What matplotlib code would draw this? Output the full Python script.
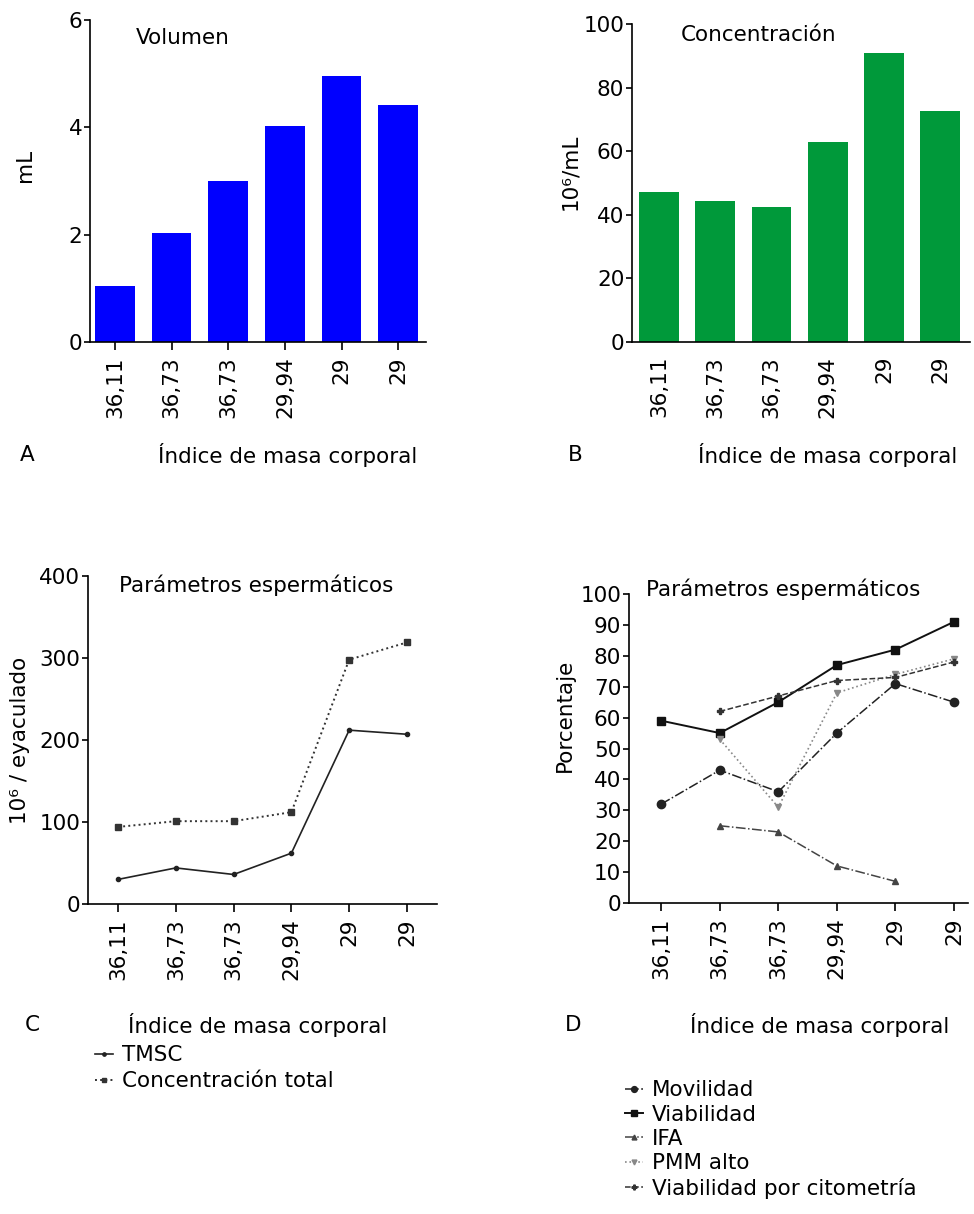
import numpy as np
import matplotlib
matplotlib.use("Agg")
import matplotlib.pyplot as plt

plt.rcParams['font.family'] = ['DejaVu Sans']

# datos
imc = ["36,11", "36,73", "36,73", "29,94", "29", "29"]
volumen = [1.05, 2.03, 3.0, 4.02, 4.95, 4.42]
concentracion = [47.2, 44.3, 42.3, 63.0, 91.0, 72.5]

tmsc = [30, 44, 36, 62, 212, 207]
conc_total = [94, 101, 101, 112, 298, 319]

movilidad = [32, 43, 36, 55, 71, 65]
viabilidad = [59, 55, 65, 77, 82, 91]
ifa = [np.nan, 25, 23, 12, 7, np.nan]
pmm_alto = [np.nan, 53, 31, 68, 74, 79]
viab_citometria = [np.nan, 62, 67, 72, 73, 78]

W, H = 974, 1214
FS = 15.5

fig = plt.figure(figsize=(W / 100, H / 100), dpi=100)


def axes_px(x0, x1, ytop, ybot):
    # coordenadas en pixeles -> fraccion de la figura
    return fig.add_axes([x0 / W, 1 - ybot / H, (x1 - x0) / W, (ybot - ytop) / H])


def estilo(ax, xticks=True):
    for s in ['top', 'right']:
        ax.spines[s].set_visible(False)
    ax.spines['left'].set_linewidth(1.2)
    ax.spines['bottom'].set_linewidth(1.2)
    x = np.arange(len(imc))
    ax.set_xticks(x)
    ax.set_xticklabels(imc, rotation=90, fontsize=FS)
    ax.tick_params(axis='y', labelsize=FS, length=4.5, width=1.2, pad=1)
    ax.tick_params(axis='x', length=5.5 if xticks else 0, width=1.2, pad=5 if xticks else 10)


x = np.arange(len(imc))

# A - Volumen
axA = axes_px(90, 426, 20, 342)
axA.bar(x, volumen, width=0.7, color='#0000ff')
axA.set_xlim(-0.44, 5.49)
axA.set_ylim(0, 6)
axA.set_yticks([0, 2, 4, 6])
estilo(axA)
axA.text(0.135, 0.925, "Volumen", transform=axA.transAxes, fontsize=FS)

# B - Concentracion
axB = axes_px(632, 970, 24, 342)
axB.bar(x, concentracion, width=0.71, color='#00993a')
axB.set_xlim(-0.48, 5.53)
axB.set_ylim(0, 100)
axB.set_yticks([0, 20, 40, 60, 80, 100])
estilo(axB, xticks=False)
axB.text(0.145, 0.945, "Concentración", transform=axB.transAxes, fontsize=FS)

# C - parametros (10^6 / eyaculado)
axC = axes_px(88, 437, 576, 904)
axC.plot(x, tmsc, '-', color='#222222', lw=1.2, marker='o', ms=3, label="TMSC")
axC.plot(x, conc_total, ':', color='#333333', lw=1.4, marker='s', ms=4, label="Concentración total")
axC.set_xlim(-0.52, 5.52)
axC.set_ylim(0, 400)
axC.set_yticks([0, 100, 200, 300, 400])
estilo(axC)
axC.text(0.09, 0.95, "Parámetros espermáticos", transform=axC.transAxes, fontsize=FS)

# D - porcentajes
axD = axes_px(629, 968, 594, 903)
axD.plot(x, movilidad, '-.', color='#222222', lw=1.1, marker='o', ms=6, label="Movilidad")
axD.plot(x, viabilidad, '-', color='#111111', lw=1.4, marker='s', ms=6, label="Viabilidad")
axD.plot(x, ifa, '-.', color='#444444', lw=1.1, marker='^', ms=5, label="IFA")
axD.plot(x, pmm_alto, ':', color='#888888', lw=1.2, marker='v', ms=5, label="PMM alto")
axD.plot(x, viab_citometria, '--', color='#333333', lw=1.1, marker='P', ms=5, label="Viabilidad por citometría")
axD.set_xlim(-0.55, 5.24)
axD.set_ylim(0, 100)
axD.set_yticks(np.arange(0, 101, 10))
estilo(axD)
axD.text(0.05, 0.995, "Parámetros espermáticos", transform=axD.transAxes, fontsize=FS)

# etiquetas de ejes
fig.text(25 / W, 1 - 165 / H, "mL", rotation=90, ha='center', va='center', fontsize=FS)
fig.text(570 / W, 1 - 172 / H, "10⁶/mL", rotation=90, ha='center', va='center', fontsize=FS)
fig.text(20 / W, 1 - 740 / H, "10⁶ / eyaculado", rotation=90, ha='center', va='center', fontsize=FS)
fig.text(565 / W, 1 - 715 / H, "Porcentaje", rotation=90, ha='center', va='center', fontsize=FS)

for letra, lx, cx, yy in [("A", 20, 288, 455), ("B", 568, 828, 455),
                          ("C", 25, 258, 1025), ("D", 565, 820, 1025)]:
    fig.text(lx / W, 1 - yy / H, letra, ha='left', va='center', fontsize=FS)
    fig.text(cx / W, 1 - yy / H, "Índice de masa corporal", ha='center', va='center', fontsize=FS)

# leyendas
hC, lC = axC.get_legend_handles_labels()
fig.legend(hC, lC, loc='upper left', bbox_to_anchor=(76 / W, 1 - 1026 / H), frameon=False,
           fontsize=FS, handlelength=0.8, handletextpad=0.45, labelspacing=0.28, markerscale=0.8)
hD, lD = axD.get_legend_handles_labels()
fig.legend(hD, lD, loc='upper left', bbox_to_anchor=(606 / W, 1 - 1061 / H), frameon=False,
           fontsize=FS, handlelength=0.8, handletextpad=0.45, labelspacing=0.2, markerscale=0.7)

fig.savefig("out.png", dpi=100)
